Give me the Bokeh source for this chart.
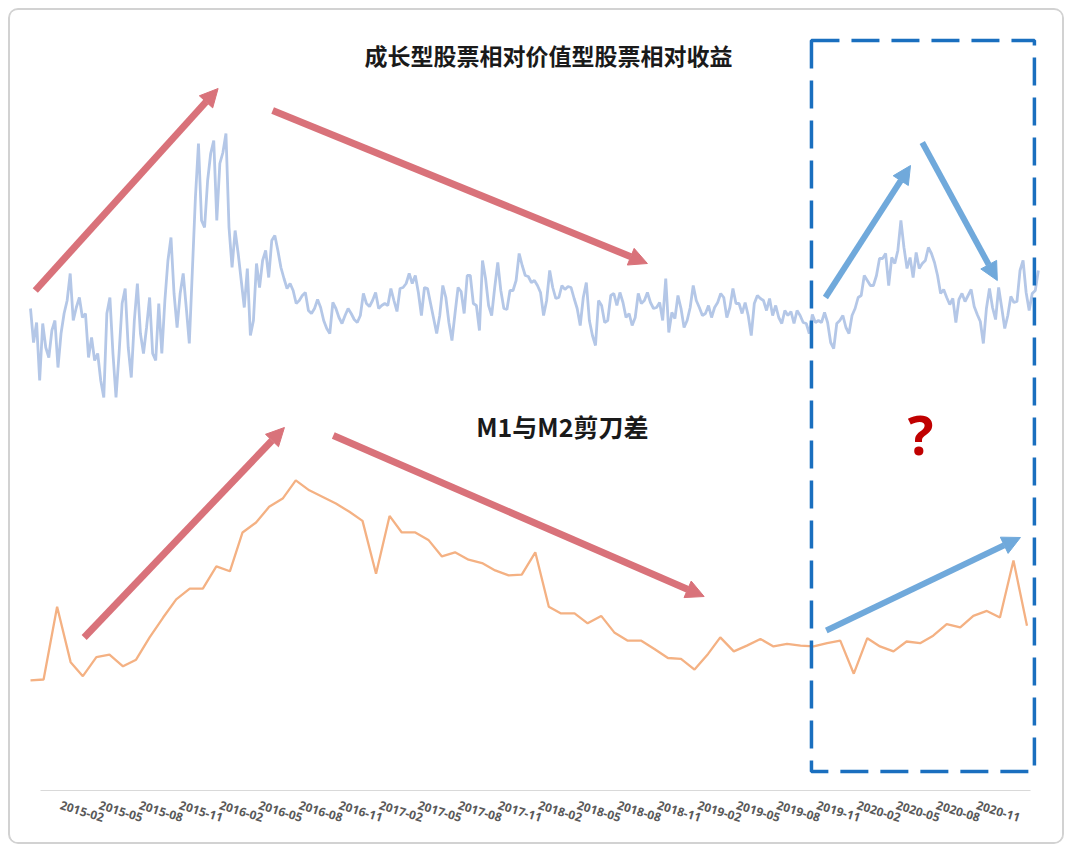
import pandas as pd
from bokeh.plotting import figure
from bokeh.models import (Range1d, FixedTicker, CustomJSTickFormatter, Arrow,
                          NormalHead, BoxAnnotation, Label)
from bokeh.embed import file_html
from bokeh.resources import INLINE

# ---------------- data ----------------
# Growth vs value relative return (weekly, index units), starting 2014-11-01
BLUE_START = "2014-11-01"
BLUE = [
    1.42, 1.08, 1.28, 0.70, 1.27, 1.03, 0.93, 1.20, 1.30, 0.83,
    1.17, 1.37, 1.50, 1.77, 1.30, 1.43, 1.53, 1.33, 1.37, 0.93,
    1.13, 0.90, 0.97, 0.70, 0.53, 1.37, 1.53, 0.97, 0.53, 0.97,
    1.47, 1.62, 1.03, 0.73, 1.30, 1.67, 1.17, 0.97, 1.23, 1.53,
    0.97, 0.90, 1.47, 0.97, 1.50, 1.90, 2.13, 1.57, 1.23, 1.57,
    1.77, 1.43, 1.07, 1.80, 2.53, 3.07, 2.30, 2.23, 2.70, 2.97,
    3.10, 2.30, 2.87, 2.98, 3.17, 2.23, 1.83, 2.20, 1.97,
    1.70, 1.43, 1.82, 1.15, 1.30, 1.87, 1.63, 1.90, 2.00, 1.73, 2.10,
    2.15, 2.00, 1.83, 1.72, 1.62, 1.67, 1.60, 1.47, 1.50, 1.55,
    1.58, 1.40, 1.37, 1.42, 1.51, 1.43, 1.30, 1.22, 1.17, 1.48,
    1.42, 1.33, 1.27, 1.35, 1.42, 1.37, 1.31, 1.28, 1.35, 1.57,
    1.47, 1.44, 1.50, 1.58, 1.42, 1.45, 1.47, 1.45, 1.62, 1.50,
    1.39, 1.62, 1.63, 1.67, 1.77, 1.67, 1.75, 1.58, 1.35, 1.63,
    1.62, 1.47, 1.32, 1.17, 1.35, 1.65,
    1.53, 1.28, 1.10, 1.37,
    1.63, 1.59, 1.37, 1.75, 1.75, 1.47, 1.45, 1.20, 1.90, 1.72,
    1.45, 1.35, 1.63, 1.88, 1.60, 1.42, 1.41, 1.60, 1.60, 1.70,
    1.97, 1.85, 1.75, 1.74, 1.68, 1.70, 1.65, 1.58, 1.35, 1.50,
    1.80, 1.63, 1.52, 1.53, 1.65, 1.61, 1.64, 1.63, 1.52, 1.42,
    1.25, 1.53, 1.68, 1.30, 1.15, 1.05, 1.50, 1.45, 1.28, 1.30,
    1.55, 1.57, 1.45, 1.58, 1.48, 1.33, 1.37, 1.25, 1.33, 1.57,
    1.47, 1.50, 1.58,
    1.48, 1.42, 1.43, 1.48, 1.30, 1.72, 1.18,
    1.38, 1.32, 1.55, 1.42, 1.23, 1.30, 1.43, 1.65, 1.50, 1.43,
    1.35, 1.37, 1.45, 1.33, 1.43, 1.48, 1.57, 1.53, 1.33, 1.43,
    1.62, 1.47, 1.47, 1.37, 1.48, 1.35, 1.15, 1.47, 1.55, 1.52,
    1.50, 1.40, 1.52, 1.35, 1.45, 1.33, 1.27, 1.40, 1.35, 1.39,
    1.27, 1.40, 1.35, 1.28, 1.27, 1.17, 1.36, 1.28, 1.30, 1.28,
    1.38, 1.28, 1.08, 1.02,
    1.27, 1.30, 1.35, 1.23, 1.17, 1.35,
    1.42, 1.53, 1.55, 1.75, 1.70, 1.65, 1.65, 1.75, 1.92, 1.92,
    1.97, 1.65, 1.93, 1.87, 2.00, 2.30, 2.03, 1.82, 1.93, 1.73,
    1.98, 1.82, 1.87, 1.90, 2.03, 1.97, 1.88, 1.75, 1.57, 1.61,
    1.53, 1.46, 1.52, 1.28, 1.51, 1.57, 1.49, 1.55, 1.61, 1.44,
    1.36, 1.29, 1.07, 1.42, 1.62, 1.43, 1.31, 1.63, 1.43, 1.22,
    1.35, 1.54, 1.48, 1.49, 1.80, 1.90, 1.58, 1.40, 1.57, 1.60, 1.80,
]

# M1 - M2 growth spread (%), monthly from 2014-11
M_START = "2014-11-01"
M1_M2 = [
    -9.1, -9.0, -0.2, -6.9, -8.6, -6.3, -6.0, -7.4, -6.6, -3.9,
    -1.5, 0.7, 2.0, 2.0, 4.7, 4.1, 8.8, 10.0, 11.9, 12.9,
    15.1, 13.9, 13.1, 12.3, 11.3, 10.2, 3.8, 10.8, 8.8, 8.8,
    7.9, 5.9, 6.4, 5.5, 5.1, 4.2, 3.6, 3.7, 6.4, -0.2,
    -1.0, -1.0, -2.2, -1.3, -3.3, -4.3, -4.3, -5.3, -6.4, -6.5,
    -7.8, -5.9, -3.9, -5.6, -4.9, -4.1, -5.0, -4.7, -4.9, -5.0,
    -4.6, -4.3, -8.3, -4.0, -5.0, -5.6, -4.4, -4.6, -3.7, -2.3,
    -2.7, -1.3, -0.7, -1.5, 5.4, -2.5,
]

TICK_LABELS = [
    "2015-02", "2015-05", "2015-08", "2015-11",
    "2016-02", "2016-05", "2016-08", "2016-11",
    "2017-02", "2017-05", "2017-08", "2017-11",
    "2018-02", "2018-05", "2018-08", "2018-11",
    "2019-02", "2019-05", "2019-08", "2019-11",
    "2020-02", "2020-05", "2020-08", "2020-11",
]

TITLE_TOP = "成长型股票相对价值型股票相对收益"
TITLE_BOTTOM = "M1与M2剪刀差"
QUESTION = "?"

# ---------------- helpers ----------------
DAY = 86400000.0


def ms(s):
    return pd.Timestamp(s).value / 1e6


blue_dates = pd.date_range(BLUE_START, periods=len(BLUE), freq="7D")
m_dates = pd.date_range(M_START, periods=len(M1_M2), freq="MS")

RED = "#D9727A"
ARROW_BLUE = "#70A9DB"
BOX_BLUE = "#1A6FBF"

p = figure(width=1056, height=836, x_axis_type="datetime", y_axis_location=None,
           output_backend="svg", toolbar_location=None,
           x_range=Range1d(ms("2014-10-09 02:00"), ms("2021-04-14 05:00")),
           y_range=Range1d(-3.40, 4.30),
           min_border_left=10, min_border_right=8, min_border_top=10,
           min_border_bottom=56)
p.extra_y_ranges = {"m": Range1d(-22.44, 70.78)}
p.grid.visible = False
p.outline_line_color = None
p.background_fill_color = "white"
p.border_fill_color = "white"
p.styles = {"margin": "8px", "border": "2px solid #d2d2d2", "border-radius": "10px",
            "overflow": "hidden"}

# labels are drawn starting a little before their month (as in the reference)
LABEL_LEAD_DAYS = 23
ax = p.xaxis[0]
ax.ticker = FixedTicker(ticks=[ms(t + "-01") - LABEL_LEAD_DAYS * DAY for t in TICK_LABELS])
ax.formatter = CustomJSTickFormatter(code="""
const d = new Date(tick + 26 * 86400000);
const m = d.getUTCMonth() + 1;
return d.getUTCFullYear() + "-" + (m < 10 ? "0" + m : "" + m);
""")
ax.bounds = (ms("2014-11-24"), ms("2021-02-09"))
ax.axis_line_color = "#d9d9d9"
ax.axis_line_width = 1
ax.major_tick_line_color = None
ax.minor_tick_line_color = None
ax.major_label_orientation = -0.3
ax.major_label_standoff = 8
ax.major_label_text_font = "Open Sans"
ax.major_label_text_font_style = "bold"
ax.major_label_text_font_size = "12px"
ax.major_label_text_color = "#595959"

# series
p.line(blue_dates, BLUE, line_color="#B4C7E7", line_width=2.8)
p.line(m_dates, M1_M2, y_range_name="m", line_color="#F4B183", line_width=2.3)

# arrows (in blue-series units)
arrows = [
    ("2014-11-12", 1.60, "2016-01-05", 3.62, RED, 7),
    ("2016-05-09", 3.40, "2018-09-15", 1.87, RED, 7),
    ("2015-03-04", -1.87, "2016-06-05", 0.23, RED, 7),
    ("2016-09-25", 0.15, "2019-01-23", -1.46, RED, 7),
    ("2019-10-28", 1.53, "2020-05-10", 2.85, ARROW_BLUE, 6),
    ("2020-06-06", 3.08, "2020-11-25", 1.70, ARROW_BLUE, 6),
    ("2019-10-30", -1.80, "2021-01-17", -0.87, ARROW_BLUE, 6),
]
for x0, y0, x1, y1, c, w in arrows:
    p.add_layout(Arrow(end=NormalHead(size=18, fill_color=c, line_color=c, line_width=1),
                       x_start=ms(x0), y_start=y0, x_end=ms(x1), y_end=y1,
                       line_color=c, line_width=w))

p.add_layout(BoxAnnotation(left=ms("2019-09-26"), right=ms("2021-02-18"), top=4.10, bottom=-3.21,
                           fill_alpha=0, line_color=BOX_BLUE, line_alpha=1.0,
                           line_width=3.5, line_dash="28 12"))

p.add_layout(Label(x=ms("2018-01-31"), y=3.96, text=TITLE_TOP, text_align="center",
                   text_baseline="middle", text_font="Noto Sans CJK SC", text_font_size="23px",
                   text_font_style="bold", text_color="#1a1a1a"))
p.add_layout(Label(x=ms("2018-03-04"), y=0.25, text=TITLE_BOTTOM, text_align="center",
                   text_baseline="middle", text_font="Noto Sans CJK SC", text_font_size="25px",
                   text_font_style="bold", text_color="#1a1a1a"))
p.add_layout(Label(x=ms("2020-06-02"), y=0.17, text=QUESTION, text_align="center",
                   text_baseline="middle", text_font="Open Sans", text_font_size="54px",
                   text_font_style="bold", text_color="#C00000"))

open("out.html", "w").write(file_html(p, INLINE))
